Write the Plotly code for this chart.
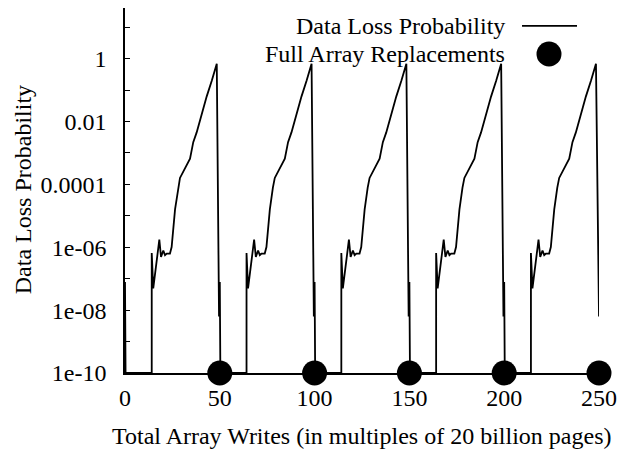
import plotly.graph_objects as go

# total array writes (x 20 billion pages), one row per replacement cycle
writes = [
    0, 0.3, 14.1, 14.1, 14.9, 18.1, 19.0, 20.2, 21.1, 22.0, 23.7, 24.6, 26.4, 28.0, 29.0, 34.3, 36.0, 37.8, 40.5, 43.1, 45.8, 48.4, 49.6,
    50, 50.3, 64.1, 64.1, 64.9, 68.1, 69.0, 70.2, 71.1, 72.0, 73.7, 74.6, 76.4, 78.0, 79.0, 84.3, 86.0, 87.8, 90.5, 93.1, 95.8, 98.4, 99.6,
    100, 100.3, 114.1, 114.1, 114.9, 118.1, 119.0, 120.2, 121.1, 122.0, 123.7, 124.6, 126.4, 128.0, 129.0, 134.3, 136.0, 137.8, 140.5, 143.1, 145.8, 148.4, 149.6,
    150, 150.3, 164.1, 164.1, 164.9, 168.1, 169.0, 170.2, 171.1, 172.0, 173.7, 174.6, 176.4, 178.0, 179.0, 184.3, 186.0, 187.8, 190.5, 193.1, 195.8, 198.4, 199.6,
    200, 200.3, 214.1, 214.1, 214.9, 218.1, 219.0, 220.2, 221.1, 222.0, 223.7, 224.6, 226.4, 228.0, 229.0, 234.3, 236.0, 237.8, 240.5, 243.1, 245.8, 248.4, 250,
]
loss_prob = [
    7.9e-8, 1e-10, 1e-10, 6.6e-7, 4.9e-8, 1.74e-6, 4.9e-7, 7.9e-7, 5.6e-7, 6.3e-7, 6.3e-7, 1.02e-6, 1.6e-5, 7.9e-5, 1.6e-4, 6.6e-4, 2.2e-3, 4.5e-3, 0.018, 0.063, 0.2, 0.69, 6.3e-9,
    7.9e-8, 1e-10, 1e-10, 6.6e-7, 4.9e-8, 1.74e-6, 4.9e-7, 7.9e-7, 5.6e-7, 6.3e-7, 6.3e-7, 1.02e-6, 1.6e-5, 7.9e-5, 1.6e-4, 6.6e-4, 2.2e-3, 4.5e-3, 0.018, 0.063, 0.2, 0.69, 6.3e-9,
    7.9e-8, 1e-10, 1e-10, 6.6e-7, 4.9e-8, 1.74e-6, 4.9e-7, 7.9e-7, 5.6e-7, 6.3e-7, 6.3e-7, 1.02e-6, 1.6e-5, 7.9e-5, 1.6e-4, 6.6e-4, 2.2e-3, 4.5e-3, 0.018, 0.063, 0.2, 0.69, 6.3e-9,
    7.9e-8, 1e-10, 1e-10, 6.6e-7, 4.9e-8, 1.74e-6, 4.9e-7, 7.9e-7, 5.6e-7, 6.3e-7, 6.3e-7, 1.02e-6, 1.6e-5, 7.9e-5, 1.6e-4, 6.6e-4, 2.2e-3, 4.5e-3, 0.018, 0.063, 0.2, 0.69, 6.3e-9,
    7.9e-8, 1e-10, 1e-10, 6.6e-7, 4.9e-8, 1.74e-6, 4.9e-7, 7.9e-7, 5.6e-7, 6.3e-7, 6.3e-7, 1.02e-6, 1.6e-5, 7.9e-5, 1.6e-4, 6.6e-4, 2.2e-3, 4.5e-3, 0.018, 0.063, 0.2, 0.69, 6.3e-9,
]
replace_x = [50, 100, 150, 200, 250]
replace_y = [1e-10, 1e-10, 1e-10, 1e-10, 1e-10]

y_tickvals = [1e-10, 1e-9, 1e-8, 1e-7, 1e-6, 1e-5, 1e-4, 1e-3, 1e-2, 1e-1, 1, 10]
y_ticktext = ["1e-10", "", "1e-08", "", "1e-06", "", "0.0001", "", "0.01", "", "1", ""]
x_tickvals = [0, 50, 100, 150, 200, 250]

FONT = "Liberation Serif, Times New Roman, serif"

fig = go.Figure()
fig.add_trace(go.Scatter(x=writes, y=loss_prob, mode="lines",
                         line=dict(color="black", width=1.8),
                         cliponaxis=False, showlegend=False))
fig.add_trace(go.Scatter(x=replace_x, y=replace_y, mode="markers",
                         marker=dict(color="black", size=25),
                         cliponaxis=False, showlegend=False))

# page has an 8px body margin, so the figure is 8px smaller than the window
fig.update_layout(
    width=623, height=446,
    margin=dict(l=117, r=32, t=0, b=81),
    plot_bgcolor="white", paper_bgcolor="white",
    font=dict(family=FONT, size=24, color="black"),
    xaxis=dict(range=[0, 250], showline=True, linecolor="black", linewidth=1.5,
               showgrid=False, zeroline=False, ticks="",
               tickvals=x_tickvals, ticklabelstandoff=2, tickfont=dict(size=24)),
    yaxis=dict(type="log", range=[-10, 1.61], showline=True, linecolor="black",
               linewidth=1.5, showgrid=False, zeroline=False,
               ticks="inside", ticklen=5, tickcolor="black",
               tickvals=y_tickvals, ticktext=y_ticktext,
               ticklabelstandoff=12, tickfont=dict(size=24)),
)

# axis titles
fig.add_annotation(text="Total Array Writes (in multiples of 20 billion pages)",
                   xref="paper", yref="paper", x=0.5, y=-0.172,
                   xanchor="center", yanchor="middle", showarrow=False)
fig.add_annotation(text="Data Loss Probability", textangle=-90,
                   xref="paper", yref="paper", x=-0.215, y=0.501,
                   xanchor="center", yanchor="middle", showarrow=False)

# key, gnuplot style: text on the left, sample on the right
fig.add_annotation(text="Data Loss Probability", xref="paper", yref="paper",
                   x=0.806, y=0.951, xanchor="right", yanchor="middle", showarrow=False)
fig.add_annotation(text="Full Array Replacements", xref="paper", yref="paper",
                   x=0.806, y=0.874, xanchor="right", yanchor="middle", showarrow=False)
fig.add_shape(type="line", xref="paper", yref="paper",
              x0=0.8376, x1=0.9536, y0=0.951, y1=0.951,
              line=dict(color="black", width=1.8))
fig.add_shape(type="circle", xref="paper", yref="paper",
              xsizemode="pixel", ysizemode="pixel", xanchor=0.8945, yanchor=0.874,
              x0=-12.5, x1=12.5, y0=-12.5, y1=12.5,
              fillcolor="black", line=dict(color="black", width=0))

fig.write_html("out.html")
